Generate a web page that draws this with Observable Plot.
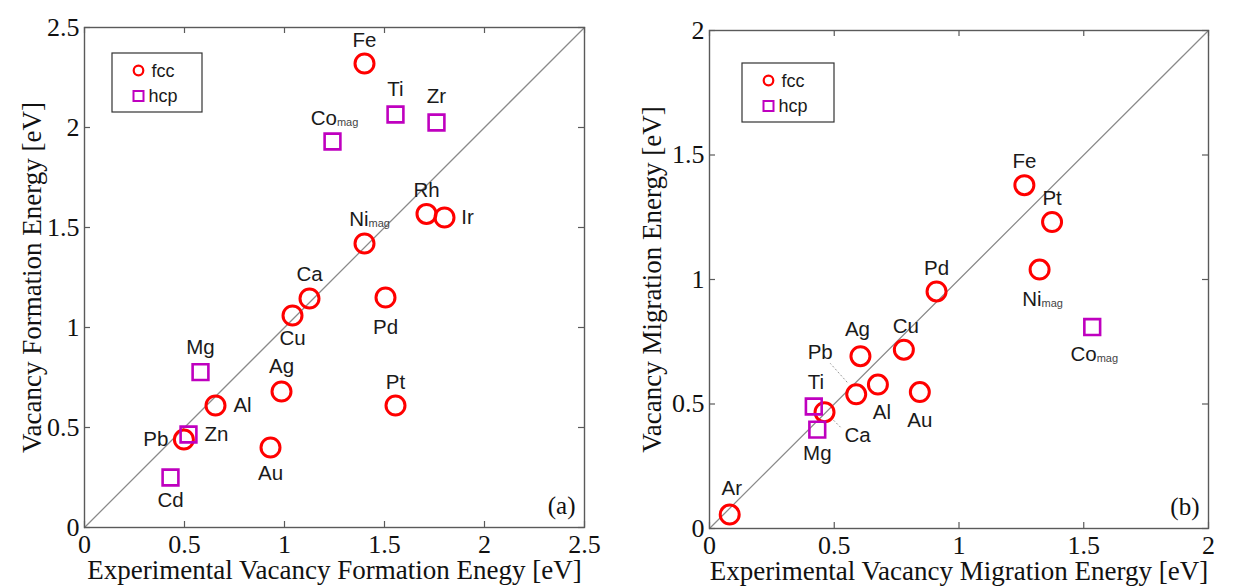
<!DOCTYPE html>
<html>
<head>
<meta charset="utf-8">
<script src="https://cdn.jsdelivr.net/npm/d3@7"></script>
<script src="https://cdn.jsdelivr.net/npm/@observablehq/plot@0.6"></script>
<style>
  body { margin: 0; background: #fff; }
  #wrap { position: relative; width: 1243px; height: 587px; overflow: hidden; background: #fff; }
  .panel { position: absolute; top: 0; }
</style>
</head>
<body>
<div id="wrap"></div>
<script>
// ---------- Panel (a): vacancy formation energy ----------
const formElements = ["Fe", "Ti", "Zr", "Co_mag", "Rh", "Ir", "Ni_mag", "Ca", "Cu", "Pd", "Pt", "Ag", "Au", "Al", "Pb", "Zn", "Mg", "Cd"];
const formLattice  = ["fcc", "hcp", "hcp", "hcp", "fcc", "fcc", "fcc", "fcc", "fcc", "fcc", "fcc", "fcc", "fcc", "fcc", "fcc", "hcp", "hcp", "hcp"];
const formExp      = [1.40, 1.555, 1.76, 1.24, 1.71, 1.80, 1.40, 1.125, 1.04, 1.505, 1.555, 0.985, 0.93, 0.655, 0.497, 0.52, 0.58, 0.43];
const formCalc     = [2.32, 2.065, 2.025, 1.93, 1.568, 1.55, 1.42, 1.145, 1.06, 1.15, 0.61, 0.68, 0.40, 0.61, 0.44, 0.465, 0.777, 0.25];
const formLabelDx  = [0, 0, 0, 2, 0, 23, 5, 0, 0, 0, 0, 0, 0, 27, -28, 28, 0, 0];
const formLabelDy  = [-23, -25, -26, -23, -23, 0, -24, -24, 23, 30, -23, -25, 26, 0, 0, 0, -25, 23];
const formDomain   = [0, 2.5];
const formTicks    = [0, 0.5, 1, 1.5, 2, 2.5];

// ---------- Panel (b): vacancy migration energy ----------
const migElements = ["Ar", "Ti", "Mg", "Ca", "Pb", "Ag", "Cu", "Al", "Au", "Pd", "Fe", "Pt", "Ni_mag", "Co_mag"];
const migLattice  = ["fcc", "hcp", "hcp", "fcc", "fcc", "fcc", "fcc", "fcc", "fcc", "fcc", "fcc", "fcc", "fcc", "hcp"];
const migExp      = [0.081, 0.418, 0.432, 0.461, 0.588, 0.605, 0.779, 0.675, 0.843, 0.91, 1.262, 1.373, 1.323, 1.534];
const migCalc     = [0.056, 0.49, 0.397, 0.467, 0.539, 0.692, 0.718, 0.578, 0.548, 0.952, 1.379, 1.231, 1.04, 0.809];
const migLabelDx  = [2, 2, 0, 33, -36, -3, 2, 4, 0, 0, 0, 0, 3, 2];
const migLabelDy  = [-26, -24, 24, 23, -42, -27, -23, 28, 28, -23, -24, -24, 30, 27];
const migDomain   = [0, 2];
const migTicks    = [0, 0.5, 1, 1.5, 2];
// dotted leader lines (pixel offsets from the point: start -> end)
const migLeaderNames = ["Pb", "Ca"];
const migLeaderFrom  = [[-9, -12], [9, 8]];
const migLeaderTo    = [[-26, -31], [16, 15]];

const RED = "#ff0000";
const PURPLE = "#bf00bf";
const SERIF = "Liberation Serif, Times New Roman, serif";
const SANS = "Liberation Sans, Arial, sans-serif";

function rows(names, lattice, xs, ys, dxs, dys) {
  return names.map((n, i) => ({name: n, lattice: lattice[i], x: xs[i], y: ys[i], dx: dxs[i], dy: dys[i]}));
}

function panel(cfg) {
  const {data, domain, ticks, width, height, mL, mR, mT, mB, xTitle, yTitle, tag, yTitleDx, leaders} = cfg;
  const pw = width - mL - mR, ph = height - mT - mB;
  const kx = pw / (domain[1] - domain[0]), ky = ph / (domain[1] - domain[0]);
  const diag = domain.map(v => ({x: v, y: v}));
  const labelMarks = data.map(d => Plot.text([d], {
    x: "x", y: "y", text: "name", dx: d.dx, dy: d.dy,
    fontFamily: SANS, fontSize: 20.5, fill: "#1a1a1a"
  }));
  const leaderData = (leaders || []).map(l => {
    const p = data.find(d => d.name === l.name);
    return {x1: p.x + l.from[0] / kx, y1: p.y - l.from[1] / ky, x2: p.x + l.to[0] / kx, y2: p.y - l.to[1] / ky};
  });
  const svg = Plot.plot({
    width, height,
    marginLeft: mL, marginRight: mR, marginTop: mT, marginBottom: mB,
    x: {domain},
    y: {domain},
    style: {fontFamily: SERIF, color: "#111", background: "transparent", overflow: "visible"},
    marks: [
      Plot.line(diag, {x: "x", y: "y", stroke: "#8a8a8a", strokeWidth: 1.3}),
      Plot.link(leaderData, {x1: "x1", y1: "y1", x2: "x2", y2: "y2", stroke: "#9a9a9a", strokeWidth: 1, strokeDasharray: "2,2"}),
      Plot.frame({stroke: "#5a5a5a", strokeWidth: 1.4}),
      // inward ticks on all four sides
      Plot.tickX(ticks, {x: d => d, insetTop: ph - 6, stroke: "#5a5a5a", strokeWidth: 1.2}),
      Plot.tickX(ticks, {x: d => d, insetBottom: ph - 6, stroke: "#5a5a5a", strokeWidth: 1.2}),
      Plot.tickY(ticks, {y: d => d, insetRight: pw - 6, stroke: "#5a5a5a", strokeWidth: 1.2}),
      Plot.tickY(ticks, {y: d => d, insetLeft: pw - 6, stroke: "#5a5a5a", strokeWidth: 1.2}),
      Plot.axisX(ticks, {tickSize: 0, tickPadding: 7, tickFormat: d => String(d), fontSize: 26, fontFamily: SERIF, label: null}),
      Plot.axisY(ticks, {tickSize: 0, tickPadding: 5, tickFormat: d => String(d), fontSize: 26, fontFamily: SERIF, label: null}),
      Plot.dot(data.filter(d => d.lattice === "fcc"), {x: "x", y: "y", r: 9.5, symbol: "circle", stroke: RED, strokeWidth: 3, fill: "none"}),
      Plot.dot(data.filter(d => d.lattice === "hcp"), {x: "x", y: "y", r: 8.9, symbol: "square", stroke: PURPLE, strokeWidth: 2.6, fill: "none"}),
      ...labelMarks,
      Plot.text([tag], {frameAnchor: "bottom-right", text: d => d, dx: -9, dy: -22, textAnchor: "end", lineAnchor: "middle", fontFamily: SERIF, fontSize: 25, fill: "#111"}),
      Plot.text([xTitle], {frameAnchor: "bottom", text: d => d, dy: 43, textAnchor: "middle", lineAnchor: "middle", fontFamily: SERIF, fontSize: 27, fill: "#111"}),
      Plot.text([yTitle], {frameAnchor: "left", text: d => d, dx: yTitleDx, rotate: -90, textAnchor: "middle", lineAnchor: "middle", fontFamily: SERIF, fontSize: 27, fill: "#111"})
    ]
  });
  // subscript "mag" for magnetic references
  d3.select(svg).selectAll("text").each(function() {
    const t = this.textContent;
    if (t.endsWith("_mag") && this.childElementCount === 0) {
      const base = t.replace("_mag", "");
      this.textContent = base;
      d3.select(this).append("tspan").attr("font-size", 11).attr("dy", 1).attr("fill", "#444").text("mag");
    }
  });
  // legend box
  const lg = d3.select(svg).append("g").attr("transform", `translate(${cfg.legend[0]},${cfg.legend[1]})`);
  lg.append("rect").attr("x", 0).attr("y", 0).attr("width", cfg.legend[2]).attr("height", 59)
    .attr("fill", "#fff").attr("stroke", "#333").attr("stroke-width", 1.2);
  lg.append("circle").attr("cx", 26.5).attr("cy", 17.5).attr("r", 4.8).attr("fill", "none").attr("stroke", RED).attr("stroke-width", 2.2);
  lg.append("rect").attr("x", 21.5).attr("y", 38).attr("width", 10).attr("height", 10).attr("fill", "none").attr("stroke", PURPLE).attr("stroke-width", 2);
  lg.append("text").attr("x", 51).attr("y", 17.5).attr("dy", "0.35em").attr("font-family", SANS).attr("font-size", 18).attr("fill", "#1a1a1a").text("fcc");
  lg.append("text").attr("x", 51).attr("y", 43).attr("dy", "0.35em").attr("font-family", SANS).attr("font-size", 18).attr("fill", "#1a1a1a").text("hcp");
  return svg;
}

const wrap = document.getElementById("wrap");

const left = document.createElement("div");
left.className = "panel"; left.style.left = "0px";
left.appendChild(panel({
  data: rows(formElements, formLattice, formExp, formCalc, formLabelDx, formLabelDy),
  domain: formDomain, ticks: formTicks,
  width: 620, height: 587, mL: 84, mR: 36, mT: 27, mB: 60,
  xTitle: "Experimental Vacancy Formation Enegy [eV]",
  yTitle: "Vacancy Formation Energy [eV]",
  yTitleDx: -52, tag: "(a)",
  legend: [112, 53, 90]
}));
wrap.appendChild(left);

const right = document.createElement("div");
right.className = "panel"; right.style.left = "620px";
right.appendChild(panel({
  data: rows(migElements, migLattice, migExp, migCalc, migLabelDx, migLabelDy),
  domain: migDomain, ticks: migTicks,
  width: 623, height: 587, mL: 89, mR: 35, mT: 30, mB: 59,
  xTitle: "Experimental Vacancy Migration Energy [eV]",
  yTitle: "Vacancy Migration Energy [eV]",
  yTitleDx: -57, tag: "(b)",
  legend: [122, 63, 92],
  leaders: migLeaderNames.map((n, i) => ({name: n, from: migLeaderFrom[i], to: migLeaderTo[i]}))
}));
wrap.appendChild(right);
</script>
</body>
</html>
